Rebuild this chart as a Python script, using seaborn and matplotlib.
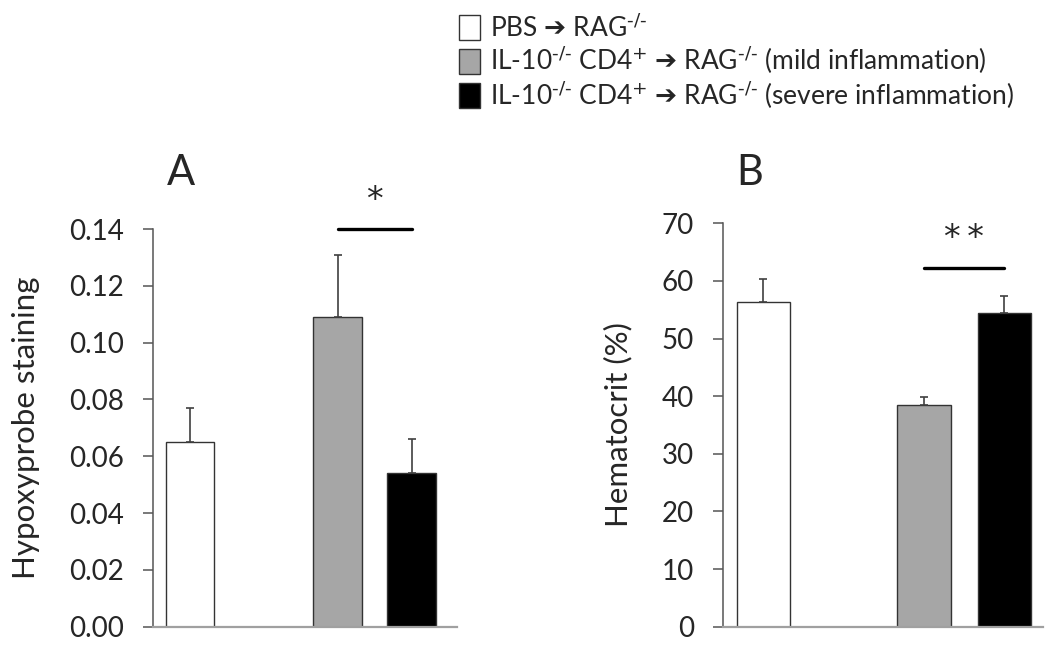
import matplotlib
matplotlib.use("Agg")
import matplotlib.pyplot as plt
import seaborn as sns
import pandas as pd
from matplotlib.patches import Patch

# ---------------- data ----------------
groups = ["PBS", "mild", "severe"]
order = ["PBS", "gap", "mild", "severe"]
ARROW = "$\\mathrm{\u2794}$"
SUP_KO = r"$^{\text{-/-}}$"
SUP_PLUS = r"$^{\text{+}}$"
legend_labels = [
    "PBS " + ARROW + " RAG" + SUP_KO,
    "IL-10" + SUP_KO + " CD4" + SUP_PLUS + " " + ARROW + " RAG" + SUP_KO + " (mild inflammation)",
    "IL-10" + SUP_KO + " CD4" + SUP_PLUS + " " + ARROW + " RAG" + SUP_KO + " (severe inflammation)",
]
hypoxy_mean = [0.065, 0.109, 0.054]
hypoxy_err = [0.012, 0.022, 0.012]
hemat_mean = [56.3, 38.5, 54.5]
hemat_err = [4.1, 1.3, 2.9]
hypoxy_ticks = [0.00, 0.02, 0.04, 0.06, 0.08, 0.10, 0.12, 0.14]
hemat_ticks = [0, 10, 20, 30, 40, 50, 60, 70]
colors = {"PBS": "#ffffff", "mild": "#a6a6a6", "severe": "#000000"}

sns.set_style("white")
plt.rcParams["font.family"] = ["Lato", "DejaVu Sans"]
plt.rcParams["mathtext.fontset"] = "custom"
plt.rcParams["mathtext.rm"] = "DejaVu Sans"
plt.rcParams["mathtext.default"] = "regular"

W, H = 1050, 652
fig = plt.figure(figsize=(W / 100, H / 100), dpi=100)

def fx(px):
    return px / W

def fy(py):
    return 1 - py / H

axA = fig.add_axes([fx(153), fy(626.7), fx(456.7) - fx(153), fy(229) - fy(626.7)])
axB = fig.add_axes([fx(723), fy(626.7), fx(1043) - fx(723), fy(223.3) - fy(626.7)])

edge = "#333333"
errc = "#404040"

def panel(ax, means, errs, ticks, xmax, ylabel, label_x, sig_y, star_y, star_text, letter, letter_x):
    df = pd.DataFrame({"group": groups, "value": means})
    sns.barplot(data=df, x="group", y="value", hue="group", order=order,
                hue_order=groups, palette=colors, width=0.66, ax=ax,
                edgecolor=edge, linewidth=1.0, legend=False, errorbar=None)
    pos = [order.index(g) for g in groups]
    ax.errorbar(pos, means, yerr=[[0] * len(errs), errs], fmt="none",
                ecolor=errc, elinewidth=1.2, capsize=3.2, capthick=1.2, zorder=1)
    ax.set_ylim(ticks[0], ticks[-1])
    ax.set_yticks(ticks)
    if isinstance(ticks[1], float):
        ax.set_yticklabels([f"{t:.2f}" for t in ticks])
    ax.set_xlim(-0.5, xmax)
    ax.set_xticks([])
    ax.set_xlabel("")
    ax.set_ylabel(ylabel, fontsize=22.5)
    ax.yaxis.set_label_coords(label_x, 0.5)
    for s in ["top", "right"]:
        ax.spines[s].set_visible(False)
    ax.spines["left"].set_color("#555555")
    ax.spines["left"].set_linewidth(1.1)
    ax.spines["bottom"].set_color("#a0a0a0")
    ax.spines["bottom"].set_linewidth(1.6)
    ax.tick_params(axis="y", direction="out", length=7, width=1.1, color="#555555",
                   labelsize=20, pad=14, left=True)
    ax.plot([2, 3], [sig_y, sig_y], color="black", lw=2.4, clip_on=False)
    ax.text(2.5, star_y, star_text, ha="center", va="center", fontsize=24,
            family="DejaVu Sans")
    fig.text(fx(letter_x), fy(173), letter, ha="center", va="center", fontsize=30)

panel(axA, hypoxy_mean, hypoxy_err, hypoxy_ticks, 3.61, "Hypoxyprobe staining",
      -(153 - 40) / (456.7 - 153), 0.14, 0.150, "*", "A", 181)
panel(axB, hemat_mean, hemat_err, hemat_ticks, 3.48, "Hematocrit (%)",
      -(723 - 632) / (1043 - 723), 62.2, 67.3, "*\u2009*", "B", 750)

handles = [Patch(facecolor=colors[g], edgecolor=edge, linewidth=1.0) for g in groups]
fig.legend(handles, legend_labels, loc="upper left",
           bbox_to_anchor=(fx(459), fy(14)), frameon=False, fontsize=19,
           handlelength=0.78, handleheight=1.08, handletextpad=0.38,
           labelspacing=0.1, borderpad=0, borderaxespad=0)

fig.savefig("out.png", dpi=100)
